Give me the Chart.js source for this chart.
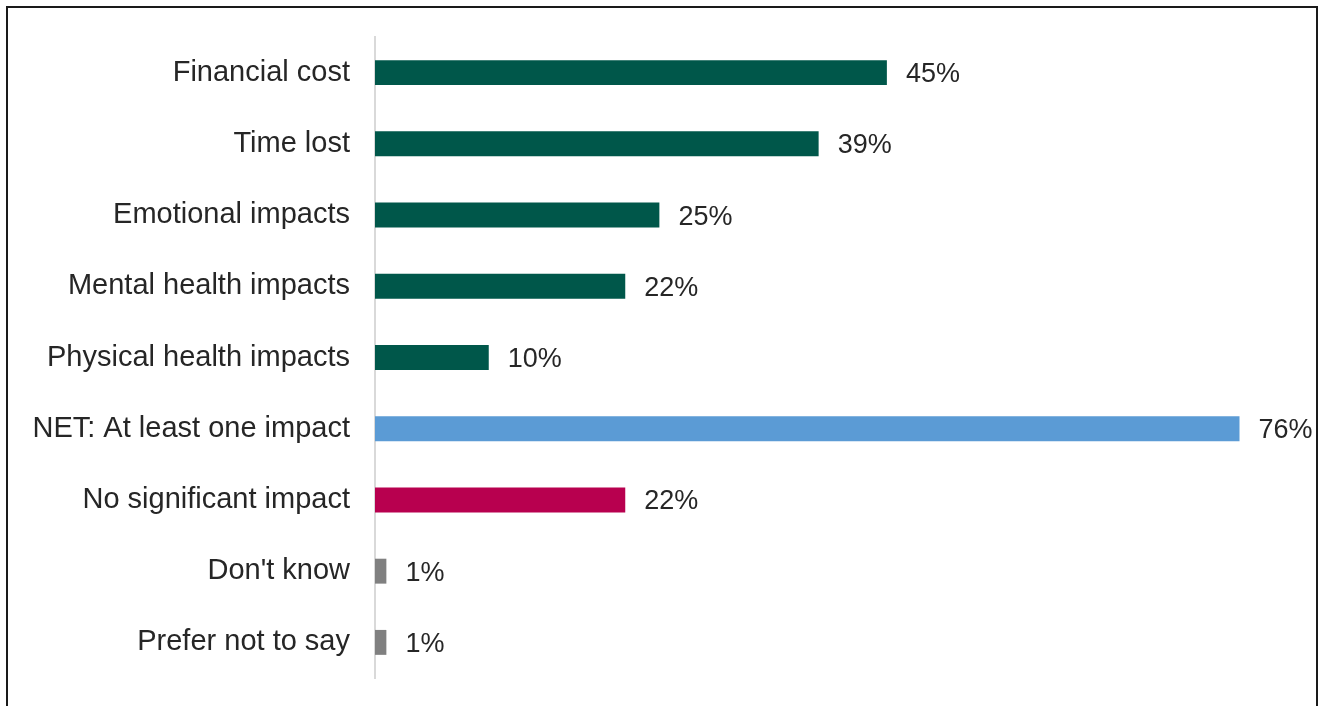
<!DOCTYPE html>
<html lang="en">
<head>
    <meta charset="UTF-8">
    <title>Impacts experienced</title>
    <script src="https://cdn.jsdelivr.net/npm/chart.js"></script>
    <style>
        html, body {
            margin: 0;
            padding: 0;
            background: #fff;
            overflow: hidden;
        }
        .frame {
            position: absolute;
            left: 6px;
            top: 6px;
            width: 1308px;
            height: 720px;
            border: 2px solid #1a1a1a;
            pointer-events: none;
        }
        #impactChart {
            position: absolute;
            left: 0;
            top: 0;
        }
    </style>
</head>
<body>
    <canvas id="impactChart" width="1319" height="706"></canvas>
    <div class="frame"></div>

    <script>
        const categories = [
            'Financial cost',
            'Time lost',
            'Emotional impacts',
            'Mental health impacts',
            'Physical health impacts',
            'NET: At least one impact',
            'No significant impact',
            "Don't know",
            'Prefer not to say'
        ];
        const values = [45, 39, 25, 22, 10, 76, 22, 1, 1];
        const barColors = [
            '#00574A', '#00574A', '#00574A', '#00574A', '#00574A',
            '#5B9BD5',
            '#B8004F',
            '#808080', '#808080'
        ];

        const FONT = '"Liberation Sans", Arial, sans-serif';

        // percentage label to the right of each bar
        const valueLabels = {
            id: 'valueLabels',
            afterDatasetsDraw(chart) {
                const ctx = chart.ctx;
                const meta = chart.getDatasetMeta(0);
                ctx.save();
                ctx.font = '27px ' + FONT;
                ctx.fillStyle = '#262626';
                ctx.textAlign = 'left';
                ctx.textBaseline = 'middle';
                meta.data.forEach((bar, i) => {
                    ctx.fillText(values[i] + '%', bar.x + 19, bar.y + 2);
                });
                ctx.restore();
            }
        };

        new Chart(document.getElementById('impactChart'), {
            type: 'bar',
            data: {
                labels: categories,
                datasets: [{
                    data: values,
                    backgroundColor: barColors,
                    categoryPercentage: 1,
                    barPercentage: 0.35
                }]
            },
            plugins: [valueLabels],
            options: {
                indexAxis: 'y',
                responsive: false,
                animation: false,
                layout: {
                    padding: { top: 37, bottom: 28, left: 0, right: 34 }
                },
                plugins: {
                    legend: { display: false },
                    tooltip: { enabled: false }
                },
                scales: {
                    x: {
                        display: false,
                        min: 0,
                        max: 80
                    },
                    y: {
                        grid: { display: false, drawTicks: false },
                        border: { display: true, color: '#d9d9d9', width: 2 },
                        ticks: {
                            color: '#262626',
                            padding: 25,
                            font: { family: FONT, size: 29 }
                        },
                        afterFit(scale) {
                            scale.width = 375;
                            scale.paddingTop = 0;
                            scale.paddingBottom = 0;
                        }
                    }
                }
            }
        });
    </script>
</body>
</html>
